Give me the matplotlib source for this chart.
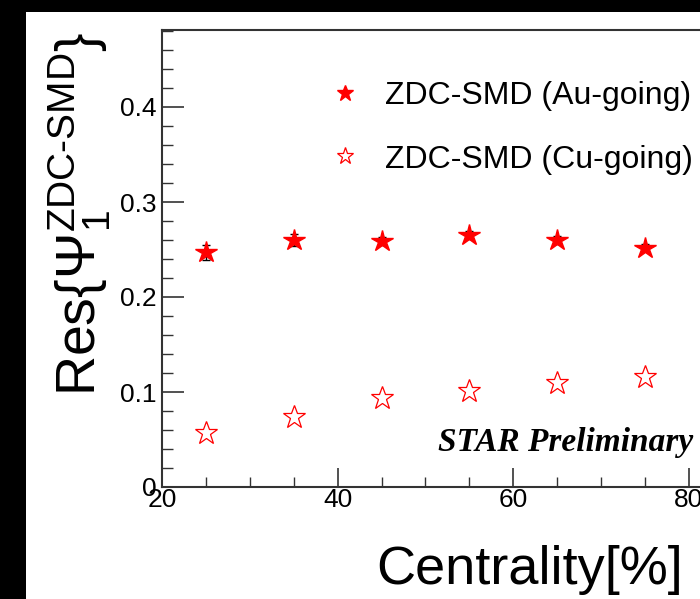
import numpy as np
import matplotlib
matplotlib.use("Agg")
import matplotlib.pyplot as plt
from matplotlib.patches import Rectangle
from matplotlib.ticker import MultipleLocator

plt.rcParams["font.family"] = ["Liberation Sans", "DejaVu Sans"]
plt.rcParams["mathtext.fontset"] = "custom"
plt.rcParams["mathtext.rm"] = "Liberation Sans"
plt.rcParams["mathtext.it"] = "Liberation Sans:italic"

# data
centrality = [25, 35, 45, 55, 65, 75]
res_au = [0.247, 0.260, 0.259, 0.265, 0.260, 0.252]
err_au = [0.008, 0.006, 0.004, 0.004, 0.004, 0.004]
res_cu = [0.057, 0.074, 0.094, 0.101, 0.110, 0.116]
err_cu = [0.003, 0.003, 0.003, 0.003, 0.003, 0.003]
labels = ["ZDC-SMD (Au-going)", "ZDC-SMD (Cu-going)"]

W, H = 700, 599
fig = plt.figure(figsize=(7, 5.99), dpi=100, facecolor="black")
# white canvas with black border top/left
fig.patches.append(Rectangle((26 / W, 0), 1, 1 - 12 / H, transform=fig.transFigure,
                             facecolor="white", edgecolor="none", zorder=-5))

x0, y0 = 162, 487
px_x = 8.78   # px per centrality unit
px_y = 950.0  # px per unit of res
xmax, ymax = 90, 0.481
ax = fig.add_axes([x0 / W, 1 - y0 / H, (xmax - 20) * px_x / W, ymax * px_y / H])
ax.set_facecolor("white")
ax.set_zorder(2)

ax.errorbar(centrality, res_au, yerr=err_au, fmt="none", ecolor="black",
            elinewidth=1, capsize=3, zorder=2)
ax.errorbar(centrality, res_cu, yerr=err_cu, fmt="none", ecolor="black",
            elinewidth=1, capsize=3, zorder=2)
ax.plot(centrality, res_au, ls="none", marker="*", ms=16, color="red",
        mec="red", label=labels[0], zorder=3)
ax.plot(centrality, res_cu, ls="none", marker="*", ms=17, mfc="white",
        mec="red", mew=0.9, label=labels[1], zorder=3)

ax.set_xlim(20, xmax)
ax.set_ylim(0, ymax)
ax.xaxis.set_major_locator(MultipleLocator(20))
ax.xaxis.set_minor_locator(MultipleLocator(5))
ax.yaxis.set_major_locator(MultipleLocator(0.1))
ax.yaxis.set_minor_locator(MultipleLocator(0.02))
ax.set_yticks([0, 0.1, 0.2, 0.3, 0.4])
ax.set_yticklabels(["0", "0.1", "0.2", "0.3", "0.4"])
ax.tick_params(which="both", direction="in", colors="#333333", labelcolor="black",
               top=False, right=False)
ax.tick_params(axis="y", which="major", length=16, width=1.2, labelsize=19, pad=4)
ax.tick_params(axis="y", which="minor", length=8, width=1)
ax.tick_params(axis="x", which="major", length=14, width=1.2, labelsize=19, pad=1)
ax.tick_params(axis="x", which="minor", length=7, width=1)
for s in ["left", "bottom", "top"]:
    ax.spines[s].set_color("#333333")
    ax.spines[s].set_linewidth(1.5)
ax.spines["right"].set_visible(False)

leg = ax.legend(loc="upper left", bbox_to_anchor=(0.272, 0.889), frameon=False,
                fontsize=23, handlelength=1.0, handletextpad=0.75,
                labelspacing=1.06, borderpad=0, borderaxespad=0, markerscale=0.75)

ax.text(0.449, 0.097, "STAR Preliminary", transform=ax.transAxes,
        family="Liberation Serif", style="italic", weight="bold", fontsize=24,
        ha="left", va="center")

fig.text(683 / W, 1 - 570 / H, "Centrality[%]", fontsize=39, ha="right", va="center")
fig.text(80 / W, 1 - 214 / H, r"Res$\{\Psi_{1}^{\rm ZDC\text{-}SMD}\}$",
         fontsize=40, rotation=90, ha="center", va="center")

fig.savefig("out.png", dpi=100, facecolor="black")
